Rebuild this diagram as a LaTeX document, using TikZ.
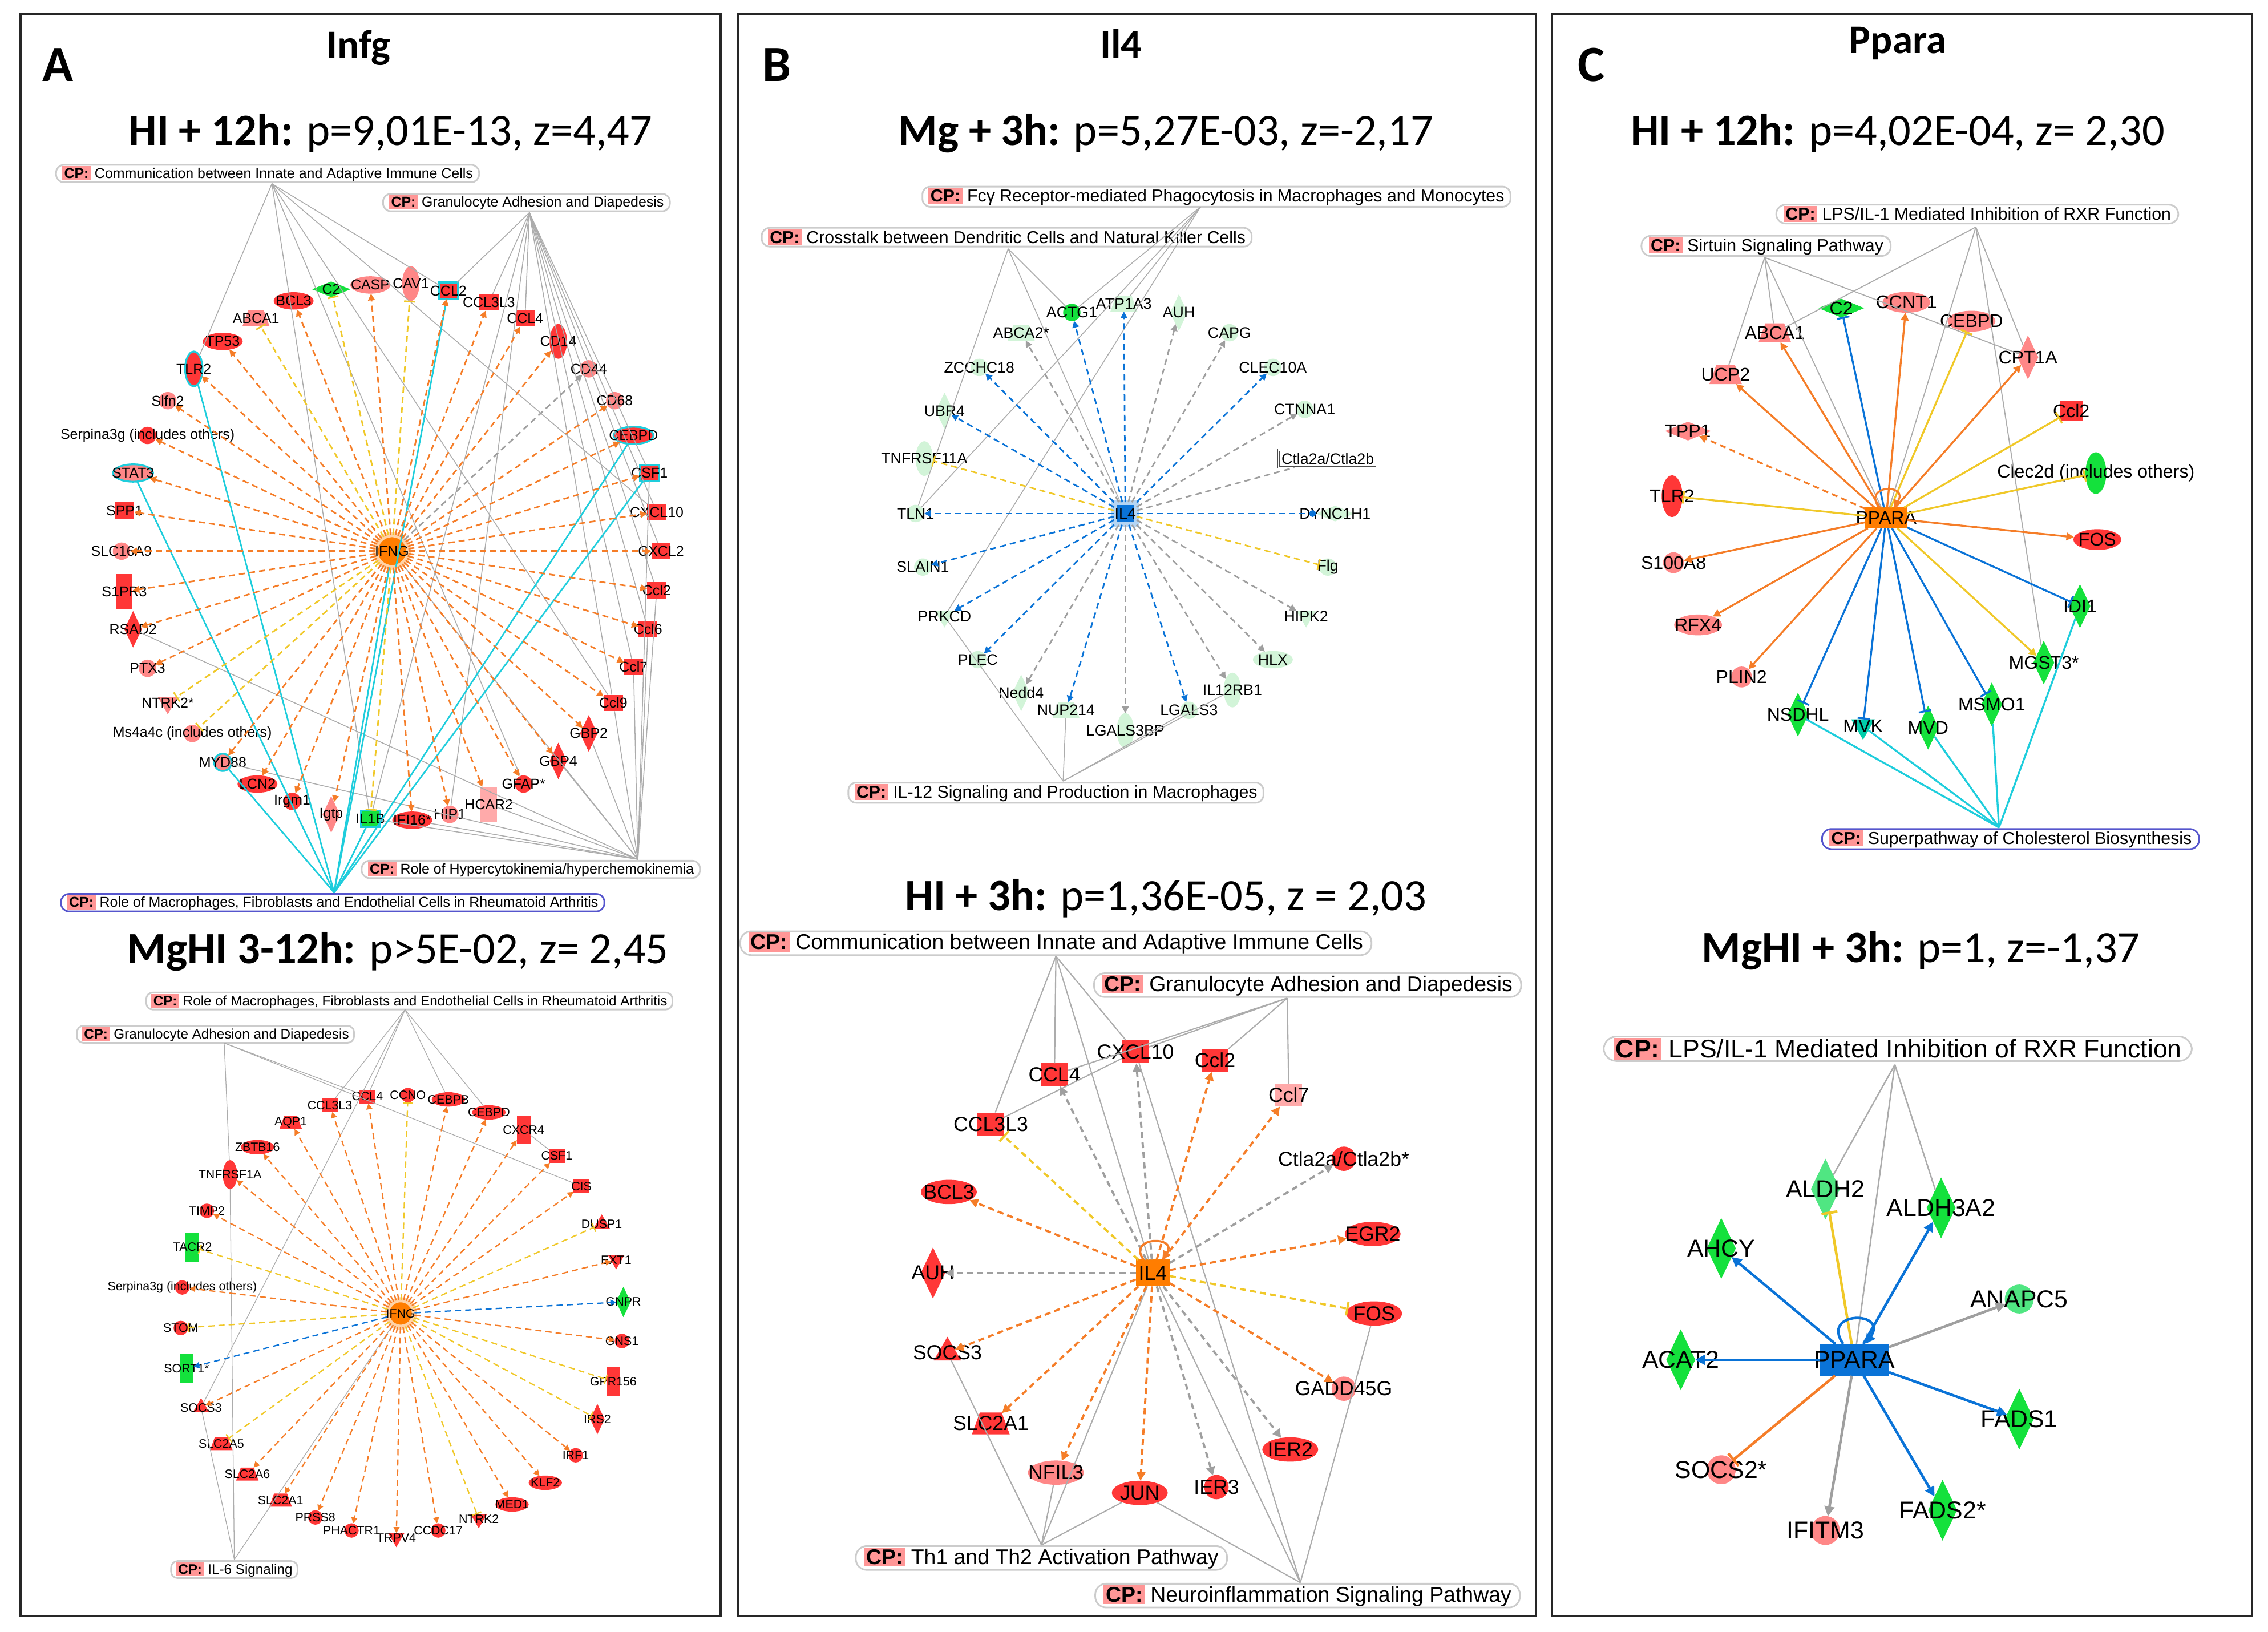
\documentclass[tikz,border=0pt]{standalone}
\usepackage{fontspec}
\setmainfont{Liberation Sans}
\newfontfamily\calib{Carlito}
\usetikzlibrary{arrows.meta, shapes.geometric}

\definecolor{upred}{RGB}{255,55,55}
\definecolor{uppink}{RGB}{255,135,135}
\definecolor{lightpink}{RGB}{255,170,170}
\definecolor{dngreen}{RGB}{20,225,60}
\definecolor{lightgreen}{RGB}{80,230,130}
\definecolor{palegreen}{RGB}{210,244,216}
\definecolor{tealgreen}{RGB}{0,205,170}
\definecolor{hubor}{RGB}{255,125,0}
\definecolor{actor}{RGB}{245,125,40}
\definecolor{inhblue}{RGB}{10,115,215}
\definecolor{incyel}{RGB}{240,200,40}
\definecolor{cpcyan}{RGB}{30,205,220}
\definecolor{cppink}{RGB}{255,150,150}
\definecolor{cpblue}{RGB}{85,85,205}
\setlength{\fboxsep}{1pt}
\newcommand{\cpt}[1]{\colorbox{cppink}{\textbf{CP:}}\ #1}

\begin{document}
\begin{tikzpicture}[x=0.025cm, y=-0.025cm]
% 1. Styles
%%%%%%%%%%
\tikzstyle{gene}=[inner sep=0pt, outer sep=0pt, minimum size=\gs]
\tikzstyle{circ}=[gene, circle]
\tikzstyle{ell}=[gene, ellipse, minimum width=2.3*\gs, minimum height=\gs]
\tikzstyle{vell}=[gene, ellipse, minimum width=\gs, minimum height=2*\gs]
\tikzstyle{sq}=[gene, rectangle, minimum width=1.1*\gs, minimum height=0.95*\gs]
\tikzstyle{trect}=[gene, rectangle, minimum width=0.95*\gs, minimum height=2*\gs]
\tikzstyle{diam}=[gene, diamond, minimum width=\gs, minimum height=2.1*\gs]
\tikzstyle{hdiam}=[gene, diamond, minimum width=2.2*\gs, minimum height=0.9*\gs]
\tikzstyle{tri}=[gene, regular polygon, regular polygon sides=3, minimum size=1.3*\gs]
\tikzstyle{itri}=[tri, shape border rotate=180]
\tikzstyle{trap}=[gene, trapezium, inner sep=0.6pt, trapezium left angle=70, trapezium right angle=70, minimum width=1.2*\gs, minimum height=0.9*\gs]
\tikzstyle{hl}=[draw=cpcyan, line width=0.9pt]
\tikzstyle{hub}=[inner sep=0pt, outer sep=0pt, draw=orange!35, line width=2.5pt]
\tikzstyle{cpbox}=[draw=gray!40, line width=0.8pt, rounded corners=0.45*\gs, inner xsep=0.35*\gs, inner ysep=0.6pt, fill=white]
\tikzstyle{act}=[draw=actor, line width=0.09*\gs, dash pattern=on 3pt off 2pt, -{Triangle[length=1pt 3,width=1pt 3]}]
\tikzstyle{inh}=[act, draw=inhblue]
\tikzstyle{inhbar}=[inh, solid, -{Bar[width=1.5pt 5]}]
\tikzstyle{inc}=[act, draw=incyel, -{Bar[width=1.5pt 5]}]
\tikzstyle{unk}=[act, draw=gray!75]
\tikzstyle{dotend}=[inh, -{Circle[length=1pt 3]}]
\tikzstyle{cpl}=[draw=gray!65, line width=0.05*\gs]
\tikzstyle{cpc}=[draw=cpcyan, line width=0.09*\gs]
\tikzstyle{selfloop}=[loop, out=125, in=55, min distance=\lpd, looseness=2.5]
\tikzstyle{ttl}=[font=\calib\fontsize{22}{25}\selectfont]
\tikzstyle{pname}=[font=\calib\bfseries\fontsize{20}{22}\selectfont]
\tikzstyle{letter}=[font=\calib\bfseries\fontsize{25}{27}\selectfont]
\tikzstyle{frame}=[draw=black!85, line width=1.2pt]

\useasboundingbox (0,0) rectangle (1568,1128);
\fill[white] (0,0) rectangle (1568,1128);
\draw[frame] (14,10) rectangle (498,1117);
\draw[frame] (510,10) rectangle (1062,1117);
\draw[frame] (1073,10) rectangle (1557,1117);

% 2. Headings
%%%%%%%%%%%%
\node[letter] (letA) at (40,45) {A};
\node[letter] (letB) at (537,45) {B};
\node[letter] (letC) at (1100,45) {C};
\node[pname] (nameA) at (248,33) {Infg};
\node[pname] (nameB) at (775,30) {Il4};
\node[pname] (nameC) at (1312,30) {Ppara};
\node[ttl] (ttlA1) at (270,92) {\textbf{HI + 12h:} p=9,01E-13, z=4,47};
\node[ttl] (ttlA2) at (275,658) {\textbf{MgHI 3-12h:} p>5E-02, z= 2,45};
\node[ttl] (ttlB1) at (806,92) {\textbf{Mg + 3h:} p=5,27E-03, z=-2,17};
\node[ttl] (ttlB2) at (806,621) {\textbf{HI + 3h:} p=1,36E-05, z = 2,03};
\node[ttl] (ttlC1) at (1312,92) {\textbf{HI + 12h:} p=4,02E-04, z= 2,30};
\node[ttl] (ttlC2) at (1328,657) {\textbf{MgHI + 3h:} p=1, z=-1,37};

% 3. Panel A, HI + 12h
%%%%%%%%%%%%%%%%%%%%%%
\begin{scope}[font=\fontsize{7}{8}\selectfont]
\def\gs{0.3cm}
\node[cpbox, font=\fontsize{7}{8}\selectfont] (aTcp1) at (185,120) {\cpt{Communication between Innate and Adaptive Immune Cells}};
\node[cpbox, font=\fontsize{7}{8}\selectfont] (aTcp2) at (364,140) {\cpt{Granulocyte Adhesion and Diapedesis}};
\node[cpbox, font=\fontsize{7}{8}\selectfont] (aTcp3) at (367,601) {\cpt{Role of Hypercytokinemia/hyperchemokinemia}};
\node[cpbox, draw=cpblue, font=\fontsize{7}{8}\selectfont] (aTcp4) at (230,624) {\cpt{Role of Macrophages, Fibroblasts and Endothelial Cells in Rheumatoid Arthritis}};
\coordinate (aTa1) at (188,127);
\coordinate (aTa2) at (366,147);
\coordinate (aTa3) at (441,594);
\coordinate (aTa4) at (231,617);

\node[hub, circle, fill=hubor, minimum size=1.9*\gs, label=center:IFNG] (aTifng) at (271,381) {};
\node[trap, fill=uppink, label=center:ABCA1] (aTabca1) at (177,220) {};
\node[ell, fill=upred, label=center:BCL3] (aTbcl3) at (203,208) {};
\node[hdiam, fill=dngreen, label=center:C2] (aTc2) at (229,200) {};
\node[ell, fill=uppink, label=center:CASP] (aTcasp) at (256,197) {};
\node[vell, fill=uppink, label=center:CAV1] (aTcav1) at (284,196) {};
\node[sq, fill=upred, hl, label=center:CCL2] (aTccl2) at (310,201) {};
\node[sq, fill=upred, label=center:CCL3L3] (aTccl3) at (338,209) {};
\node[sq, fill=upred, label=center:CCL4] (aTccl4) at (363,220) {};
\node[vell, fill=upred, label=center:CD14] (aTcd14) at (386,236) {};
\node[circ, fill=uppink, label=center:CD44] (aTcd44) at (407,255) {};
\node[circ, fill=uppink, label=center:CD68] (aTcd68) at (425,277) {};
\node[ell, fill=upred, hl, label=center:CEBPD] (aTcebpd) at (438,301) {};
\node[sq, fill=upred, hl, label=center:CSF1] (aTcsf1) at (449,327) {};
\node[sq, fill=upred, label=center:CXCL10] (aTcxcl10) at (454,354) {};
\node[sq, fill=upred, label=center:CXCL2] (aTcxcl2) at (457,381) {};
\node[sq, fill=upred, label=center:Ccl2] (aTccl2b) at (454,408) {};
\node[sq, fill=upred, label=center:Ccl6] (aTccl6) at (448,435) {};
\node[sq, fill=upred, label=center:Ccl7] (aTccl7) at (438,461) {};
\node[sq, fill=upred, label=center:Ccl9] (aTccl9) at (424,486) {};
\node[diam, fill=upred, label=center:GBP2] (aTgbp2) at (407,507) {};
\node[diam, fill=upred, label=center:GBP4] (aTgbp4) at (386,526) {};
\node[circ, fill=upred, label=center:GFAP*] (aTgfap) at (362,542) {};
\node[trect, fill=lightpink, label=center:HCAR2] (aThcar2) at (338,556) {};
\node[circ, fill=uppink, label=center:HIP1] (aThip1) at (311,563) {};
\node[ell, fill=upred, label=center:IFI16*] (aTifi) at (285,567) {};
\node[sq, fill=dngreen, hl, label=center:IL1B] (aTil1b) at (256,566) {};
\node[diam, fill=uppink, label=center:Igtp] (aTigtp) at (229,563) {};
\node[circ, fill=upred, label=center:Irgm1] (aTirgm) at (202,554) {};
\node[ell, fill=upred, label=center:LCN2] (aTlcn2) at (178,542) {};
\node[circ, fill=uppink, hl, label=center:MYD88] (aTmyd88) at (154,527) {};
\node[circ, fill=uppink, label=center:Ms4a4c (includes others)] (aTms4) at (133,507) {};
\node[itri, fill=uppink, label=center:NTRK2*] (aTntrk) at (116,486) {};
\node[circ, fill=uppink, label=center:PTX3] (aTptx3) at (102,462) {};
\node[diam, fill=upred, label=center:RSAD2] (aTrsad2) at (92,435) {};
\node[trect, fill=upred, label=center:S1PR3] (aTs1pr3) at (86,409) {};
\node[circ, fill=uppink, label=center:SLC16A9] (aTslc) at (84,381) {};
\node[sq, fill=upred, label=center:SPP1] (aTspp1) at (86,353) {};
\node[ell, fill=uppink, hl, label=center:STAT3] (aTstat3) at (92,327) {};
\node[circ, fill=upred, label=center:Serpina3g (includes others)] (aTserp) at (102,301) {};
\node[circ, fill=uppink, label=center:Slfn2] (aTslfn) at (116,277) {};
\node[vell, fill=upred, hl, label=center:TLR2] (aTtlr2) at (134,255) {};
\node[ell, fill=upred, label=center:TP53] (aTtp53) at (154,236) {};

\path (aTa1) edge[cpl] (aTtlr2) edge[cpl] (aTil1b) edge[cpl] (aTgfap) edge[cpl] (aTccl9)
      edge[cpl] (aTccl2) edge[cpl] (aTcxcl10);
\path (aTa2) edge[cpl] (aTccl2) edge[cpl] (aTccl3) edge[cpl] (aTccl4) edge[cpl] (aTcsf1)
      edge[cpl] (aTcxcl10) edge[cpl] (aTcxcl2) edge[cpl] (aTccl2b) edge[cpl] (aTccl6)
      edge[cpl] (aTccl7) edge[cpl] (aTccl9) edge[cpl] (aTil1b) edge[cpl] (aThip1);
\path (aTa3) edge[cpl] (aTccl2b) edge[cpl] (aTccl6) edge[cpl] (aTccl7) edge[cpl] (aTccl9)
      edge[cpl] (aTgbp2) edge[cpl] (aTgbp4) edge[cpl] (aThcar2) edge[cpl] (aTifi)
      edge[cpl] (aTil1b) edge[cpl] (aTrsad2) edge[cpl] (aTmyd88) edge[cpl] (aTcsf1)
      edge[cpl] (aTifng);
\path (aTa4) edge[cpc] (aTtlr2) edge[cpc] (aTstat3) edge[cpc] (aTmyd88) edge[cpc] (aTil1b)
      edge[cpc] (aTifng) edge[cpc] (aTccl2) edge[cpc] (aTcebpd) edge[cpc] (aTcsf1);
\path (aTifng) edge[act] (aTbcl3) edge[act] (aTcasp) edge[act] (aTccl2) edge[act] (aTccl3)
      edge[act] (aTccl4) edge[act] (aTcd14) edge[act] (aTcd68) edge[act] (aTcebpd)
      edge[act] (aTcsf1) edge[act] (aTcxcl10) edge[act] (aTcxcl2) edge[act] (aTccl2b)
      edge[act] (aTccl6) edge[act] (aTccl7) edge[act] (aTccl9) edge[act] (aTgbp2)
      edge[act] (aTgbp4) edge[act] (aTgfap) edge[act] (aThcar2) edge[act] (aThip1)
      edge[act] (aTifi) edge[act] (aTigtp) edge[act] (aTirgm) edge[act] (aTlcn2)
      edge[act] (aTmyd88) edge[act] (aTptx3) edge[act] (aTrsad2) edge[act] (aTs1pr3)
      edge[act] (aTslc) edge[act] (aTspp1) edge[act] (aTstat3) edge[act] (aTserp)
      edge[act] (aTslfn) edge[act] (aTtlr2) edge[act] (aTtp53)
      edge[inc] (aTabca1) edge[inc] (aTc2) edge[inc] (aTcav1) edge[inc] (aTntrk)
      edge[inc] (aTms4) edge[inc] (aTil1b)
      edge[unk] (aTcd44);
\end{scope}

% 4. Panel A, MgHI 3-12h
%%%%%%%%%%%%%%%%%%%%%%%%
\begin{scope}[font=\fontsize{6}{7}\selectfont]
\def\gs{0.25cm}
\node[cpbox, font=\fontsize{6.8}{7.5}\selectfont] (aBcp1) at (283,692) {\cpt{Role of Macrophages, Fibroblasts and Endothelial Cells in Rheumatoid Arthritis}};
\node[cpbox, font=\fontsize{6.8}{7.5}\selectfont] (aBcp2) at (149,715) {\cpt{Granulocyte Adhesion and Diapedesis}\hspace{3mm}};
\node[cpbox, font=\fontsize{6.8}{7.5}\selectfont] (aBcp3) at (162,1085) {\cpt{IL-6 Signaling}\hspace{3mm}};
\coordinate (aBa1) at (280,698);
\coordinate (aBa2) at (155,721);
\coordinate (aBa3) at (162,1078);

\node[hub, circle, fill=hubor, minimum size=1.9*\gs, label=center:IFNG] (aBifng) at (277,908) {};
\node[sq, fill=upred, label=center:CCL3L3] (aBccl3) at (228,764) {};
\node[trap, fill=upred, label=center:AQP1] (aBaqp1) at (201,776) {};
\node[ell, fill=upred, label=center:ZBTB16] (aBzbtb) at (178,793) {};
\node[vell, fill=upred, label=center:TNFRSF1A] (aBtnfr) at (159,812) {};
\node[circ, fill=upred, label=center:TIMP2] (aBtimp) at (143,837) {};
\node[trect, fill=dngreen, label=center:TACR2] (aBtacr) at (133,862) {};
\node[circ, fill=upred, label=center:Serpina3g (includes others)] (aBserp) at (126,890) {};
\node[circ, fill=upred, label=center:STOM] (aBstom) at (125,918) {};
\node[trect, fill=dngreen, label=center:SORT1*] (aBsort) at (129,946) {};
\node[tri, fill=upred, label=center:SOCS3] (aBsocs3) at (139,973) {};
\node[trap, fill=upred, label=center:SLC2A5] (aBslc5) at (153,998) {};
\node[trap, fill=upred, label=center:SLC2A6] (aBslc6) at (171,1019) {};
\node[trap, fill=upred, label=center:SLC2A1] (aBslc1) at (194,1037) {};
\node[circ, fill=upred, label=center:PRSS8] (aBprss) at (218,1049) {};
\node[circ, fill=upred, label=center:PHACTR1] (aBphac) at (243,1058) {};
\node[itri, fill=upred, label=center:TRPV4] (aBtrpv) at (274,1063) {};
\node[circ, fill=upred, label=center:CCDC17] (aBccdc) at (303,1058) {};
\node[itri, fill=upred, label=center:NTRK2] (aBntrk) at (331,1050) {};
\node[ell, fill=upred, label=center:MED1] (aBmed) at (354,1040) {};
\node[ell, fill=upred, label=center:KLF2] (aBklf) at (377,1025) {};
\node[circ, fill=upred, label=center:IRF1] (aBirf) at (398,1006) {};
\node[diam, fill=upred, label=center:IRS2] (aBirs) at (413,981) {};
\node[trect, fill=upred, label=center:GPR156] (aBgpr) at (424,955) {};
\node[circ, fill=upred, label=center:GNS1] (aBgns) at (430,927) {};
\node[diam, fill=dngreen, label=center:GNPR] (aBgnpr) at (431,900) {};
\node[itri, fill=upred, label=center:EXT1] (aBext) at (426,871) {};
\node[tri, fill=upred, label=center:DUSP1] (aBdusp) at (416,846) {};
\node[sq, fill=upred, label=center:CIS] (aBcis) at (402,820) {};
\node[sq, fill=upred, label=center:CSF1] (aBcsf1) at (385,799) {};
\node[trect, fill=upred, label=center:CXCR4] (aBcxcr4) at (362,781) {};
\node[ell, fill=upred, label=center:CEBPD] (aBcebpd) at (338,769) {};
\node[ell, fill=upred, label=center:CEBPB] (aBcebpb) at (310,760) {};
\node[circ, fill=upred, label=center:CCNO] (aBccno) at (282,757) {};
\node[sq, fill=upred, label=center:CCL4] (aBccl4) at (254,758) {};

\path (aBa1) edge[cpl] (aBccl3) edge[cpl] (aBccl4) edge[cpl] (aBcebpb) edge[cpl] (aBcebpd)
      edge[cpl] (aBsocs3);
\path (aBa2) edge[cpl] (aBtnfr) edge[cpl] (aBccl4) edge[cpl] (aBcis);
\path (aBa3) edge[cpl] (aBtnfr) edge[cpl] (aBsocs3) edge[cpl] (aBifng);
\path (aBcxcr4) edge[cpl] (aBcsf1);
\path (aBifng) edge[act] (aBccl3) edge[act] (aBaqp1) edge[act] (aBzbtb) edge[act] (aBtnfr)
      edge[act] (aBtimp) edge[act] (aBserp) edge[act] (aBsocs3) edge[act] (aBslc6)
      edge[act] (aBslc1) edge[act] (aBprss) edge[act] (aBphac) edge[act] (aBtrpv)
      edge[act] (aBccdc) edge[act] (aBmed) edge[act] (aBklf) edge[act] (aBirf)
      edge[act] (aBgns) edge[act] (aBext) edge[act] (aBcis) edge[act] (aBcsf1)
      edge[act] (aBcxcr4) edge[act] (aBcebpd) edge[act] (aBcebpb) edge[act] (aBccl4)
      edge[inc] (aBtacr) edge[inc] (aBstom) edge[inc] (aBslc5) edge[inc] (aBccno)
      edge[inc] (aBdusp) edge[inc] (aBgpr) edge[inc] (aBirs) edge[inc] (aBntrk)
      edge[inh] (aBsort) edge[inh] (aBgnpr);
\end{scope}

% 5. Panel B, Mg + 3h
%%%%%%%%%%%%%%%%%%%%%
\begin{scope}[font=\fontsize{7.5}{8}\selectfont]
\def\gs{0.3cm}
\node[cpbox, font=\fontsize{8.5}{9}\selectfont] (bTcp1) at (841,136) {\cpt{Fcγ Receptor-mediated Phagocytosis in Macrophages and Monocytes}};
\node[cpbox, font=\fontsize{8.5}{9}\selectfont] (bTcp2) at (696,164) {\cpt{Crosstalk between Dendritic Cells and Natural Killer Cells}};
\node[cpbox, font=\fontsize{8.5}{9}\selectfont] (bTcp3) at (730,548) {\cpt{IL-12 Signaling and Production in Macrophages}};
\coordinate (bTa1) at (830,143);
\coordinate (bTa2) at (697,172);
\coordinate (bTa3) at (735,540);

\node[hub, rectangle, fill=inhblue, draw=inhblue!30, minimum size=1.3*\gs, label=center:IL4] (bTil4) at (778,355) {};
\node[circ, fill=dngreen, label=center:ACTG1] (bTactg) at (741,216) {};
\node[trap, fill=palegreen, label=center:ATP1A3] (bTatp) at (777,210) {};
\node[trap, fill=palegreen, label=center:ABCA2*] (bTabca) at (706,230) {};
\node[circ, fill=palegreen, label=center:ZCCHC18] (bTzcc) at (677,254) {};
\node[diam, fill=palegreen, label=center:UBR4] (bTubr) at (653,284) {};
\node[vell, fill=palegreen, label=center:TNFRSF11A] (bTtnf) at (639,317) {};
\node[circ, fill=palegreen, label=center:TLN1] (bTtln) at (633,355) {};
\node[circ, fill=palegreen, label=center:SLAIN1] (bTslain) at (638,392) {};
\node[itri, fill=palegreen, label=center:PRKCD] (bTprkcd) at (653,426) {};
\node[circ, fill=palegreen, label=center:PLEC] (bTplec) at (676,456) {};
\node[diam, fill=palegreen, label=center:Nedd4] (bTnedd) at (706,479) {};
\node[trap, fill=palegreen, label=center:NUP214] (bTnup) at (737,491) {};
\node[vell, fill=palegreen, label=center:LGALS3BP] (bTlgbp) at (778,505) {};
\node[circ, fill=palegreen, label=center:LGALS3] (bTlgal) at (822,491) {};
\node[vell, fill=palegreen, label=center:IL12RB1] (bTil12) at (852,477) {};
\node[ell, fill=palegreen, label=center:HLX] (bThlx) at (880,456) {};
\node[itri, fill=palegreen, label=center:HIPK2] (bThipk) at (903,426) {};
\node[circ, fill=palegreen, label=center:Flg] (bTflg) at (918,392) {};
\node[hdiam, fill=palegreen, label=center:DYNC1H1] (bTdync) at (923,355) {};
\node[draw=gray!60!black, double, inner sep=1.5pt, fill=white] (bTctla) at (918,317) {Ctla2a/Ctla2b};
\node[circ, fill=palegreen, label=center:CTNNA1] (bTctnna) at (902,283) {};
\node[circ, fill=palegreen, label=center:CLEC10A] (bTclec) at (880,254) {};
\node[circ, fill=palegreen, label=center:CAPG] (bTcapg) at (850,230) {};
\node[diam, fill=palegreen, label=center:AUH] (bTauh) at (815,216) {};

\path (bTa1) edge[cpl] (bTactg) edge[cpl] (bTatp) edge[cpl] (bTtln) edge[cpl] (bTprkcd);
\path (bTa2) edge[cpl] (bTtln) edge[cpl] (bTactg) edge[cpl] (bTil4);
\path (bTa3) edge[cpl] (bTprkcd) edge[cpl] (bTnup) edge[cpl] (bTlgal) edge[cpl] (bTil12);
\path (bTil4) edge[inh] (bTactg) edge[inh] (bTatp) edge[inh] (bTzcc) edge[inh] (bTubr)
      edge[inh] (bTtln) edge[inh] (bTslain) edge[inh] (bTprkcd) edge[inh] (bTplec)
      edge[inh] (bTnup) edge[inh] (bTlgal) edge[inh] (bTclec) edge[dotend] (bTdync)
      edge[unk] (bTabca) edge[unk] (bTnedd) edge[unk] (bTlgbp) edge[unk] (bTauh)
      edge[unk] (bTcapg) edge[unk] (bTctnna) edge[unk] (bThipk) edge[unk] (bThlx)
      edge[unk] (bTil12) edge[unk, -] (bTctla)
      edge[inc] (bTtnf) edge[inc] (bTflg);
\end{scope}

% 6. Panel B, HI + 3h
%%%%%%%%%%%%%%%%%%%%%
\begin{scope}[font=\fontsize{10}{11}\selectfont]
\def\gs{0.42cm}
\def\lpd{5mm}
\node[cpbox, font=\fontsize{10.5}{11}\selectfont] (bBcp1) at (730,652) {\cpt{Communication between Innate and Adaptive Immune Cells}};
\node[cpbox, font=\fontsize{10.5}{11}\selectfont] (bBcp2) at (904,681) {\cpt{Granulocyte Adhesion and Diapedesis}};
\node[cpbox, font=\fontsize{10.5}{11}\selectfont] (bBcp3) at (720,1077) {\cpt{Th1 and Th2 Activation Pathway}};
\node[cpbox, font=\fontsize{10.5}{11}\selectfont] (bBcp4) at (904,1103) {\cpt{Neuroinflammation Signaling Pathway}};
\coordinate (bBa1) at (730,661);
\coordinate (bBa2) at (890,690);
\coordinate (bBa3) at (720,1068);
\coordinate (bBa4) at (899,1094);

\node[hub, rectangle, fill=hubor, draw=none, minimum width=1.4*\gs, minimum height=1.1*\gs, label=center:IL4] (bBil4) at (797,880) {};
\node[sq, fill=upred, label=center:CCL3L3] (bBccl3) at (685,777) {};
\node[sq, fill=upred, label=center:CCL4] (bBccl4) at (729,743) {};
\node[sq, fill=upred, label=center:CXCL10] (bBcxcl) at (785,727) {};
\node[sq, fill=upred, label=center:Ccl2] (bBccl2) at (840,733) {};
\node[sq, fill=lightpink, label=center:Ccl7] (bBccl7) at (891,757) {};
\node[circ, fill=upred, label=center:Ctla2a/Ctla2b*] (bBctla) at (929,801) {};
\node[ell, fill=upred, label=center:EGR2] (bBegr2) at (949,853) {};
\node[ell, fill=upred, label=center:FOS] (bBfos) at (950,908) {};
\node[circ, fill=uppink, label=center:GADD45G] (bBgadd) at (929,960) {};
\node[ell, fill=upred, label=center:IER2] (bBier2) at (892,1002) {};
\node[circ, fill=upred, label=center:IER3] (bBier3) at (841,1028) {};
\node[ell, fill=upred, label=center:JUN] (bBjun) at (788,1032) {};
\node[ell, fill=uppink, label=center:NFIL3] (bBnfil) at (730,1018) {};
\node[trap, fill=upred, label=center:SLC2A1] (bBslc) at (685,984) {};
\node[tri, fill=upred, label=center:SOCS3] (bBsocs) at (655,935) {};
\node[diam, fill=upred, label=center:AUH] (bBauh) at (645,880) {};
\node[ell, fill=upred, label=center:BCL3] (bBbcl3) at (656,824) {};

\path (bBa1) edge[cpl] (bBccl3) edge[cpl] (bBccl4) edge[cpl] (bBcxcl) edge[cpl] (bBil4);
\path (bBa2) edge[cpl] (bBcxcl) edge[cpl] (bBccl4) edge[cpl] (bBccl2) edge[cpl] (bBccl7);
\path (bBa3) edge[cpl] (bBsocs) edge[cpl] (bBnfil) edge[cpl] (bBil4) edge[cpl] (bBjun);
\path (bBa4) edge[cpl] (bBcxcl) edge[cpl] (bBil4) edge[cpl] (bBfos) edge[cpl] (bBjun);
\path (bBccl3) edge[cpl] (bBcxcl);
\path (bBil4) edge[act] (bBbcl3) edge[act] (bBsocs) edge[act] (bBslc) edge[act] (bBnfil)
      edge[act] (bBjun) edge[act] (bBccl2) edge[act] (bBccl7) edge[act] (bBegr2)
      edge[act] (bBgadd)
      edge[inc] (bBccl3) edge[inc] (bBfos)
      edge[unk] (bBccl4) edge[unk] (bBcxcl) edge[unk] (bBctla) edge[unk] (bBauh)
      edge[unk] (bBier3) edge[unk] (bBier2)
      edge[act, solid, selfloop] (bBil4);
\end{scope}

% 7. Panel C, HI + 12h
%%%%%%%%%%%%%%%%%%%%%%
\begin{scope}[font=\fontsize{9}{10}\selectfont]
\def\gs{0.36cm}
\def\lpd{5mm}
\node[cpbox, font=\fontsize{8.5}{9}\selectfont] (cTcp1) at (1367,148) {\cpt{LPS/IL-1 Mediated Inhibition of RXR Function}};
\node[cpbox, font=\fontsize{8.5}{9}\selectfont] (cTcp2) at (1221,170) {\cpt{Sirtuin Signaling Pathway}\hspace{2mm}};
\node[cpbox, draw=cpblue, font=\fontsize{8.5}{9}\selectfont] (cTcp3) at (1390,580) {\cpt{Superpathway of Cholesterol Biosynthesis}};
\coordinate (cTa1) at (1366,157);
\coordinate (cTa2) at (1220,178);
\coordinate (cTa3) at (1382,572);

\node[hub, rectangle, fill=hubor, draw=none, minimum width=2*\gs, minimum height=\gs, label=center:PPARA] (cTppara) at (1304,358) {};
\node[hdiam, fill=dngreen, label=center:C2] (cTc2) at (1273,213) {};
\node[ell, fill=uppink, label=center:CCNT1] (cTccnt) at (1318,209) {};
\node[ell, fill=uppink, label=center:CEBPD] (cTcebpd) at (1363,222) {};
\node[diam, fill=uppink, label=center:CPT1A] (cTcpt) at (1402,247) {};
\node[sq, fill=upred, label=center:Ccl2] (cTccl2) at (1432,284) {};
\node[vell, fill=dngreen, label=center:Clec2d (includes others)] (cTclec) at (1449,327) {};
\node[ell, fill=upred, label=center:FOS] (cTfos) at (1450,373) {};
\node[diam, fill=dngreen, label=center:IDI1] (cTidi) at (1438,419) {};
\node[diam, fill=dngreen, label=center:MGST3*] (cTmgst) at (1413,458) {};
\node[diam, fill=dngreen, label=center:MSMO1] (cTmsmo) at (1377,487) {};
\node[diam, fill=dngreen, label=center:MVD] (cTmvd) at (1333,503) {};
\node[itri, fill=tealgreen, label=center:MVK] (cTmvk) at (1288,502) {};
\node[diam, fill=dngreen, label=center:NSDHL] (cTnsdhl) at (1243,494) {};
\node[circ, fill=uppink, label=center:PLIN2] (cTplin) at (1204,468) {};
\node[ell, fill=uppink, label=center:RFX4] (cTrfx) at (1174,432) {};
\node[circ, fill=uppink, label=center:S100A8] (cTs100) at (1157,389) {};
\node[vell, fill=upred, label=center:TLR2] (cTtlr2) at (1156,343) {};
\node[hdiam, fill=uppink, label=center:TPP1] (cTtpp) at (1167,298) {};
\node[trap, fill=uppink, label=center:UCP2] (cTucp) at (1193,259) {};
\node[trap, fill=uppink, label=center:ABCA1] (cTabca) at (1227,230) {};

\path (cTa2) edge[cpl] (cTucp) edge[cpl] (cTabca) edge[cpl] (cTppara) edge[cpl] (cTcpt);
\path (cTa1) edge[cpl] (cTabca) edge[cpl] (cTppara) edge[cpl] (cTcpt) edge[cpl] (cTmgst);
\path (cTa3) edge[cpc] (cTnsdhl) edge[cpc] (cTmvk) edge[cpc] (cTmvd) edge[cpc] (cTmsmo)
      edge[cpc] (cTidi);
\path (cTppara) edge[act, solid] (cTabca) edge[act, solid] (cTucp) edge[act, solid] (cTccnt)
      edge[act, solid] (cTcpt) edge[act, solid] (cTfos) edge[act, solid] (cTs100)
      edge[act, solid] (cTrfx) edge[act, solid] (cTplin) edge[act] (cTtpp)
      edge[inhbar] (cTc2) edge[inhbar] (cTnsdhl) edge[inhbar] (cTmvk) edge[inhbar] (cTmvd)
      edge[inhbar] (cTmsmo) edge[inhbar] (cTidi)
      edge[inc, solid] (cTcebpd) edge[inc, solid] (cTccl2) edge[inc, solid] (cTclec)
      edge[inc, solid] (cTtlr2)
      edge[act, solid, draw=incyel] (cTmgst)
      edge[act, solid, selfloop] (cTppara);
\end{scope}

% 8. Panel C, MgHI + 3h
%%%%%%%%%%%%%%%%%%%%%%%
\begin{scope}[font=\fontsize{12}{13}\selectfont]
\def\gs{0.5cm}
\def\lpd{7mm}
\node[cpbox, font=\fontsize{12.5}{13}\selectfont] (cBcp1) at (1312,725) {\cpt{LPS/IL-1 Mediated Inhibition of RXR Function}};
\coordinate (cBa1) at (1310,736);

\node[hub, rectangle, fill=inhblue, draw=none, minimum width=2.4*\gs, minimum height=1.1*\gs, label=center:PPARA] (cBppara) at (1282,940) {};
\node[diam, fill=lightgreen, label=center:ALDH2] (cBaldh2) at (1262,822) {};
\node[diam, fill=dngreen, label=center:ALDH3A2] (cBaldh3) at (1342,835) {};
\node[diam, fill=dngreen, label=center:AHCY] (cBahcy) at (1190,863) {};
\node[circ, fill=lightgreen, label=center:ANAPC5] (cBanapc) at (1396,898) {};
\node[diam, fill=dngreen, label=center:ACAT2] (cBacat) at (1162,940) {};
\node[diam, fill=dngreen, label=center:FADS1] (cBfads1) at (1396,981) {};
\node[diam, fill=dngreen, label=center:FADS2*] (cBfads2) at (1343,1044) {};
\node[circ, fill=uppink, label=center:IFITM3] (cBifitm) at (1262,1058) {};
\node[circ, fill=uppink, label=center:SOCS2*] (cBsocs2) at (1190,1016) {};

\path (cBa1) edge[cpl] (cBaldh2) edge[cpl] (cBaldh3) edge[cpl] (cBppara);
\path (cBppara) edge[inh, solid] (cBahcy) edge[inh, solid] (cBaldh3) edge[inh, solid] (cBacat)
      edge[inh, solid] (cBfads1) edge[inh, solid] (cBfads2)
      edge[inc, solid] (cBaldh2) edge[inc, solid, draw=actor] (cBsocs2)
      edge[unk, solid] (cBanapc) edge[unk, solid] (cBifitm)
      edge[inh, solid, selfloop] (cBppara);
\end{scope}
\end{tikzpicture}
\end{document}
